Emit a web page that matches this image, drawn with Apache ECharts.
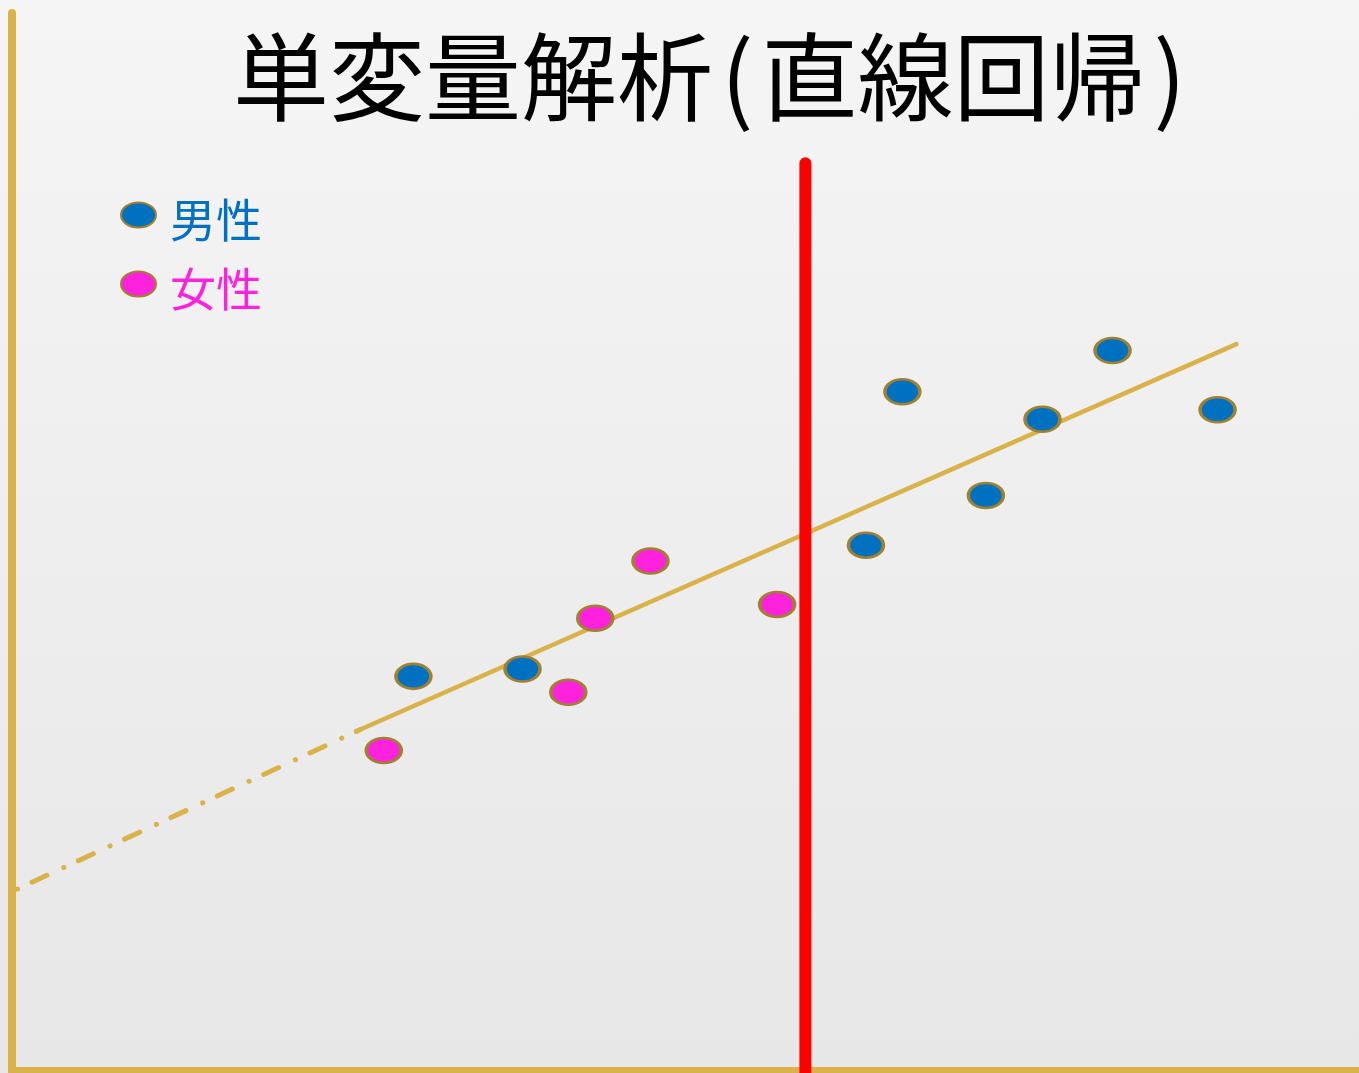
<!DOCTYPE html>
<html>
<head>
<meta charset="utf-8">
<title>単変量解析(直線回帰)</title>
<script src="https://cdn.jsdelivr.net/npm/echarts@6/dist/echarts.min.js"></script>
<style>
  html, body { margin: 0; padding: 0; width: 1359px; height: 1073px; overflow: hidden; }
  #chart { width: 1359px; height: 1073px; }
</style>
</head>
<body>
<div id="chart"></div>
<script>
// Title pieces and legend names
const titleMain = '単変量解析';
const titleSub = '直線回帰';
const seriesNames = ['男性', '女性'];

// Male observations (x, y)
const maleX = [29.8, 37.9, 63.4, 66.1, 72.3, 76.5, 81.7, 89.5];
const maleY = [37.3, 38.0, 49.7, 64.2, 54.4, 61.6, 68.1, 62.5];

// Female observations (x, y)
const femaleX = [27.6, 41.3, 43.3, 47.4, 56.8];
const femaleY = [30.3, 35.8, 42.8, 48.2, 44.1];

// Fitted regression line: solid over the observed range, dash-dot extrapolation to the left
const fitX = [25.9, 90.9];
const fitY = [32.3, 68.7];
const extX = [0.4, 25.9];
const extY = [17.2, 32.3];

// Vertical reference line
const refX = [58.9, 58.9];
const refY = [85.8, -1];

const zip = (xs, ys) => xs.map((x, i) => [x, ys[i]]);

const GOLD = '#d9b249';
const RIM = '#9f812f';
const BLUE = '#0070c0';
const PINK = '#ff22dd';
const FONT = '"Noto Sans CJK JP", "Noto Sans CJK SC", sans-serif';
const ELLIPSE = 'path://M50,0C77.6,0,100,22.4,100,50C100,77.6,77.6,100,50,100C22.4,100,0,77.6,0,50C0,22.4,22.4,0,50,0Z';

const chart = echarts.init(document.getElementById('chart'));

const hiddenAxisParts = {
  axisTick: { show: false },
  axisLabel: { show: false },
  splitLine: { show: false }
};

chart.setOption({
  animation: false,
  backgroundColor: {
    type: 'linear', x: 0, y: 0, x2: 0, y2: 1,
    colorStops: [
      { offset: 0, color: '#f5f5f5' },
      { offset: 1, color: '#e7e7e7' }
    ]
  },
  title: {
    text: '{t|' + titleMain + '}{p|(}{t|' + titleSub + '}{p|)}',
    left: 228,
    top: 22,
    textStyle: {
      fontWeight: 'normal',
      rich: {
        t: { fontFamily: FONT, fontSize: 96, fontWeight: 'normal', lineHeight: 100, color: '#000' },
        p: { fontFamily: FONT, fontSize: 96, fontWeight: 'normal', lineHeight: 100, color: '#000', padding: [0, 8] }
      }
    }
  },
  legend: {
    orient: 'vertical',
    left: 115,
    top: 182,
    itemWidth: 35,
    itemHeight: 25,
    itemGap: 13,
    symbolKeepAspect: false,
    selectedMode: false,
    data: [
      { name: seriesNames[0], textStyle: { color: BLUE } },
      { name: seriesNames[1], textStyle: { color: PINK } }
    ],
    formatter: '{n|{name}}',
    textStyle: {
      fontFamily: FONT, fontSize: 46, lineHeight: 48, padding: [0, 0, 0, 9],
      rich: { n: { fontFamily: FONT, fontSize: 46, lineHeight: 48, padding: [10, 0, 0, 0] } }
    }
  },
  grid: { left: 12, right: 0, top: 13, bottom: 2, containLabel: false },
  xAxis: Object.assign({
    type: 'value', min: 0, max: 100,
    axisLine: { show: true, onZero: false, lineStyle: { color: GOLD, width: 8 } }
  }, hiddenAxisParts),
  yAxis: Object.assign({
    type: 'value', min: 0, max: 100,
    axisLine: { show: true, onZero: false, lineStyle: { color: GOLD, width: 8, cap: 'round' } }
  }, hiddenAxisParts),
  series: [
    {
      type: 'line',
      data: zip(extX, extY),
      symbol: 'none',
      silent: true,
      lineStyle: { color: GOLD, width: 5, type: [0.1, 16, 16.5, 18.5], cap: 'round' },
      z: 2
    },
    {
      type: 'line',
      data: zip(fitX, fitY),
      symbol: 'none',
      silent: true,
      lineStyle: { color: GOLD, width: 4.5, cap: 'round' },
      z: 2
    },
    {
      name: seriesNames[0],
      type: 'scatter',
      data: zip(maleX, maleY),
      symbol: ELLIPSE,
      symbolSize: [35, 25],
      symbolKeepAspect: false,
      itemStyle: { color: BLUE, borderColor: RIM, borderWidth: 3, opacity: 1 },
      z: 3
    },
    {
      name: seriesNames[1],
      type: 'scatter',
      data: zip(femaleX, femaleY),
      symbol: ELLIPSE,
      symbolSize: [35, 25],
      symbolKeepAspect: false,
      itemStyle: { color: PINK, borderColor: RIM, borderWidth: 3, opacity: 1 },
      z: 3
    },
    {
      type: 'line',
      data: zip(refX, refY),
      symbol: 'none',
      silent: true,
      clip: false,
      lineStyle: { color: '#ff0000', width: 12, cap: 'round' },
      z: 5
    }
  ]
});
</script>
</body>
</html>
